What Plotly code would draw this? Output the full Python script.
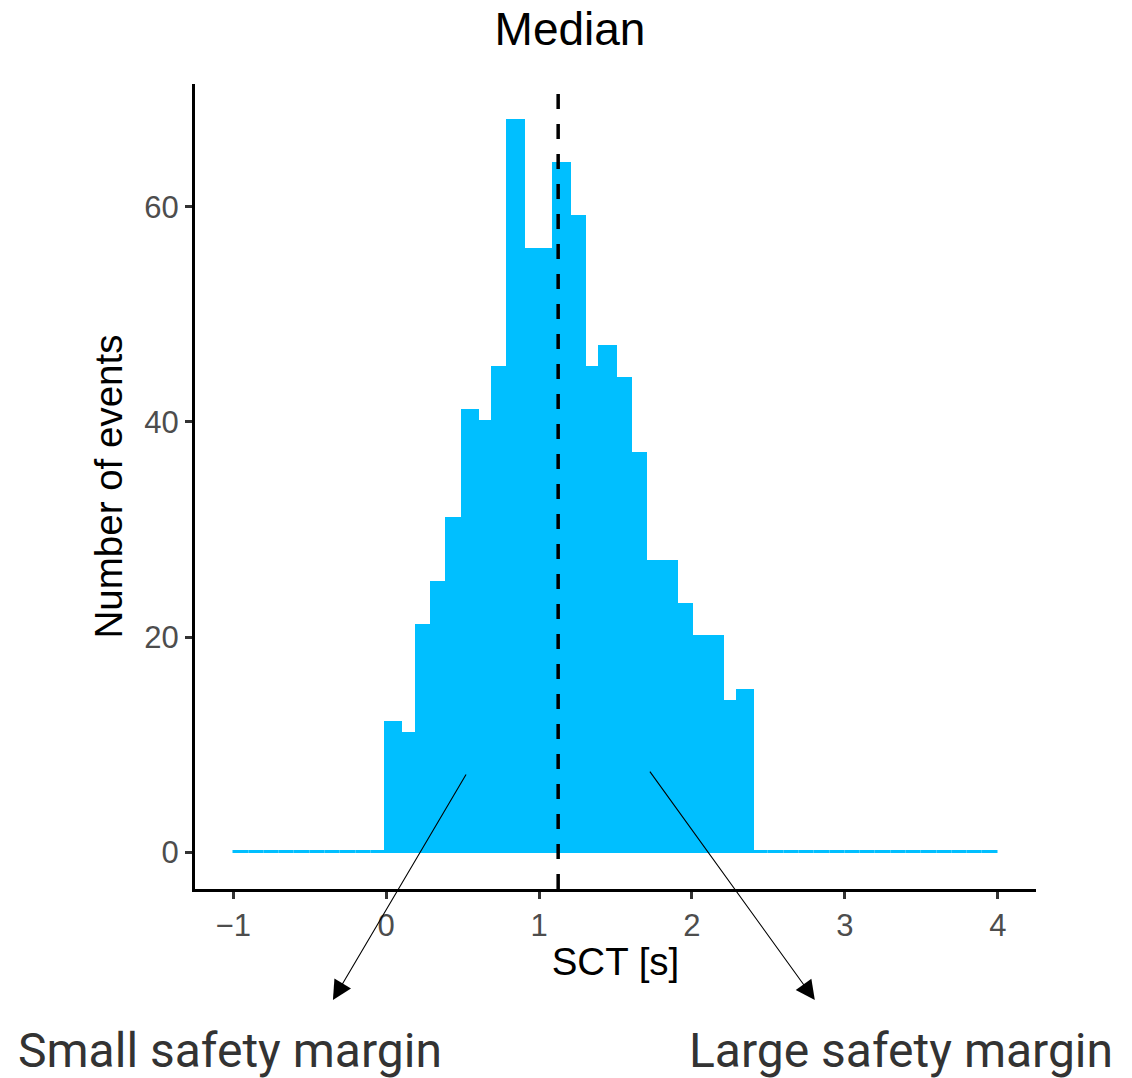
import plotly.graph_objects as go

# Histogram data (bin width 0.1 from -1 to 4)
bin_start = -1.0
bin_width = 0.1
counts = [0]*10 + [12, 11, 21, 25, 31, 41, 40, 45, 68, 56, 56, 64, 59, 45, 47, 44, 37, 27, 27, 23, 20, 20, 14, 15] + [0]*16
median_sct = 1.125

x_ticks = [-1, 0, 1, 2, 3, 4]
y_ticks = [0, 20, 40, 60]

bin_centers = [bin_start + bin_width*(i + 0.5) for i in range(len(counts))]

BLUE = "#00BFFF"
MAIN_FONT = "Liberation Sans"
fig = go.Figure()
fig.add_trace(go.Bar(
    x=bin_centers, y=counts, width=bin_width,
    marker=dict(color=BLUE, line=dict(color=BLUE, width=3)),
    showlegend=False, hoverinfo="x+y",
))

fig.add_shape(type="line", xref="x", yref="paper", x0=median_sct, x1=median_sct, y0=0, y1=1,
              line=dict(color="black", width=3.5, dash="15px,15px"))

# arrows
fig.add_annotation(xref="paper", yref="paper", x=0.164, y=-0.138, ax=134, ay=-227,
                   showarrow=True, arrowhead=2, arrowsize=3.5, arrowwidth=1.1, arrowcolor="black", text="")
fig.add_annotation(xref="paper", yref="paper", x=0.737, y=-0.138, ax=-166, ay=-230,
                   showarrow=True, arrowhead=2, arrowsize=3.5, arrowwidth=1.1, arrowcolor="black", text="")

fig.add_annotation(xref="paper", yref="paper", x=0.042, y=-0.201, text="Small safety margin",
                   showarrow=False, font=dict(size=48, color="#333333", family="Roboto"),
                   xanchor="center", yanchor="middle")
fig.add_annotation(xref="paper", yref="paper", x=0.840, y=-0.201, text="Large safety margin",
                   showarrow=False, font=dict(size=48, color="#333333", family="Roboto"),
                   xanchor="center", yanchor="middle")

W, H = 1124, 1070
fig.update_layout(
    width=W, height=H,
    margin=dict(l=187, r=96, t=76, b=189),
    plot_bgcolor="white", paper_bgcolor="white",
    font=dict(family=MAIN_FONT, color="black"),
    title=dict(text="Median", x=0.5, xref="container", xanchor="center",
               y=1 - 21/H, yref="container", yanchor="middle",
               font=dict(size=46, color="black", family=MAIN_FONT)),
    bargap=0,
)
fig.update_xaxes(range=[-1.25, 4.25], tickvals=x_ticks, showgrid=False, zeroline=False,
                 showline=True, linecolor="black", linewidth=3,
                 ticks="outside", ticklen=7, tickwidth=2.5, tickcolor="#333333",
                 tickfont=dict(size=31, color="#4d4d4d", family=MAIN_FONT),
                 title=dict(text="SCT [s]", font=dict(size=38.5, color="black", family=MAIN_FONT), standoff=6))
fig.update_yaxes(range=[-3.4, 71.4], tickvals=y_ticks, showgrid=False, zeroline=False,
                 showline=True, linecolor="black", linewidth=3,
                 ticks="outside", ticklen=7, tickwidth=2.5, tickcolor="#333333",
                 tickfont=dict(size=31, color="#4d4d4d", family=MAIN_FONT),
                 title=dict(text="Number of events", font=dict(size=38.5, color="black", family=MAIN_FONT), standoff=10))

fig.write_html("out.html")
